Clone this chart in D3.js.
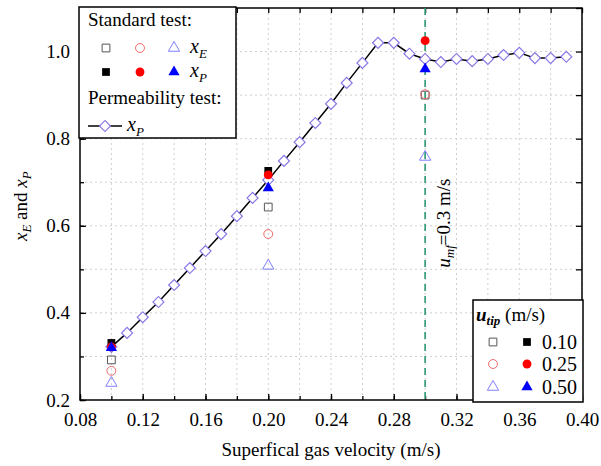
<!DOCTYPE html>
<html>
<head>
<meta charset="utf-8">
<script src="https://cdn.jsdelivr.net/npm/d3@7"></script>
<style>
  body { margin: 0; background: #fff; }
</style>
</head>
<body>
<div id="chart"></div>
<script>
const WIDTH = 601;
const HEIGHT = 466;

// permeability test (x_P)
const permX = [0.10, 0.11, 0.12, 0.13, 0.14, 0.15, 0.16, 0.17, 0.18, 0.19,
               0.20, 0.21, 0.22, 0.23, 0.24, 0.25, 0.26, 0.27, 0.28, 0.29,
               0.30, 0.31, 0.32, 0.33, 0.34, 0.35, 0.36, 0.37, 0.38, 0.39];
const permY = [0.322, 0.354, 0.390, 0.425, 0.464, 0.503, 0.542, 0.581, 0.622, 0.664,
               0.705, 0.749, 0.792, 0.836, 0.880, 0.928, 0.974, 1.020, 1.020, 0.995,
               0.983, 0.976, 0.983, 0.978, 0.983, 0.992, 0.997, 0.985, 0.985, 0.988];

// standard test, one entry per u_tip
const standardX = [0.10, 0.20, 0.30];
const utipLabels = ["0.10", "0.25", "0.50"];
const xE = [
  [0.292, 0.643, 0.900],
  [0.267, 0.581, 0.902],
  [0.239, 0.508, 0.758]
];
const xP = [
  [0.331, 0.726, null],
  [0.322, 0.717, 1.025],
  [0.320, 0.687, 0.960]
];

const xTicks = [0.08, 0.12, 0.16, 0.20, 0.24, 0.28, 0.32, 0.36, 0.40];
const yTicks = [0.2, 0.4, 0.6, 0.8, 1.0];
const umf = 0.30;

const FONT = "Liberation Serif";
const shapes = [d3.symbolSquare, d3.symbolCircle, d3.symbolTriangle];
const openColors = ["#555555", "#ef6a6a", "#7f7fff"];
const fillColors = ["#000000", "#ff0000", "#0000ff"];
const sizes = [60, 62, 55];

const margin = {left: 80, right: 19, top: 8, bottom: 66};
const x = d3.scaleLinear().domain([0.08, 0.40]).range([margin.left, WIDTH - margin.right]);
const y = d3.scaleLinear().domain([0.2, 1.1]).range([HEIGHT - margin.bottom, margin.top]);

const svg = d3.select("#chart").append("svg")
  .attr("width", WIDTH)
  .attr("height", HEIGHT);

// dotted grid
const xMinor = d3.range(0.10, 0.40, 0.02);
const yMinor = d3.range(0.3, 1.1, 0.1);
svg.append("g").selectAll("line").data(xMinor).enter().append("line")
  .attr("x1", d => x(d)).attr("x2", d => x(d))
  .attr("y1", y.range()[0]).attr("y2", y.range()[1])
  .attr("stroke", "#cfcfcf").attr("stroke-dasharray", "2,3");
svg.append("g").selectAll("line").data(yMinor).enter().append("line")
  .attr("y1", d => y(d)).attr("y2", d => y(d))
  .attr("x1", x.range()[0]).attr("x2", x.range()[1])
  .attr("stroke", "#cfcfcf").attr("stroke-dasharray", "2,3");

// axes with inward ticks on all four sides
const bottom = HEIGHT - margin.bottom, right = WIDTH - margin.right;
function axisGroup(axis, tx, ty) {
  const g = svg.append("g").attr("transform", `translate(${tx},${ty})`).call(axis);
  g.select(".domain").remove();
  g.selectAll("line").attr("stroke", "#000").attr("stroke-width", 1.3);
  g.selectAll("text").attr("font-size", 19).attr("fill", "#000");
  return g;
}
const xAllTicks = d3.range(0.08, 0.401, 0.02);
const yAllTicks = d3.range(0.2, 1.101, 0.1);
axisGroup(d3.axisBottom(x).tickValues(xAllTicks).tickSize(-4).tickFormat(""), 0, bottom);
axisGroup(d3.axisBottom(x).tickValues(xTicks).tickSize(-6).tickPadding(13).tickFormat(d3.format(".2f")), 0, bottom);
axisGroup(d3.axisTop(x).tickValues(xAllTicks).tickSize(-5).tickFormat(""), 0, margin.top);
axisGroup(d3.axisLeft(y).tickValues(yAllTicks).tickSize(-4).tickFormat(""), margin.left, 0);
axisGroup(d3.axisLeft(y).tickValues(yTicks).tickSize(-6).tickPadding(10).tickFormat(d3.format(".1f")), margin.left, 0);
axisGroup(d3.axisRight(y).tickValues(yAllTicks).tickSize(-6).tickFormat(""), right, 0);

svg.append("rect")
  .attr("x", margin.left).attr("y", margin.top)
  .attr("width", right - margin.left).attr("height", bottom - margin.top)
  .attr("fill", "none").attr("stroke", "#000").attr("stroke-width", 1.5);

// u_mf line
svg.append("line")
  .attr("x1", x(umf)).attr("x2", x(umf))
  .attr("y1", y.range()[1]).attr("y2", y.range()[0])
  .attr("stroke", "#2a9a72").attr("stroke-width", 1.6).attr("stroke-dasharray", "7,5");
const umfText = svg.append("text")
  .attr("transform", `translate(${x(umf) + 25},${y(0.606)}) rotate(-90)`)
  .attr("text-anchor", "middle").attr("font-size", 19);
umfText.append("tspan").attr("font-style", "italic").text("u");
umfText.append("tspan").attr("font-style", "italic").attr("font-size", 13).attr("dy", 4).text("mf");
umfText.append("tspan").attr("dy", -4).text("=0.3 m/s");

// permeability test line + diamonds
const permData = permX.map((d, i) => [d, permY[i]]);
svg.append("path").datum(permData)
  .attr("fill", "none").attr("stroke", "#000").attr("stroke-width", 1.5)
  .attr("d", d3.line().x(d => x(d[0])).y(d => y(d[1])));
const diamond = d3.symbol().type(d3.symbolSquare).size(60);
svg.append("g").selectAll("path").data(permData).enter().append("path")
  .attr("d", diamond)
  .attr("transform", d => `translate(${x(d[0])},${y(d[1])}) rotate(45)`)
  .attr("fill", "#fff").attr("stroke", "#8a78e6").attr("stroke-width", 1.2);

// standard test markers
function marker(g, k, filled, px, py) {
  g.append("path")
    .attr("d", d3.symbol().type(shapes[k]).size(sizes[k]))
    .attr("transform", `translate(${px},${py})`)
    .attr("fill", filled ? fillColors[k] : "none")
    .attr("stroke", filled ? "none" : openColors[k])
    .attr("stroke-width", 1);
}
const stdG = svg.append("g");
xE.forEach((row, k) => row.forEach((v, i) => {
  if (v != null) marker(stdG, k, false, x(standardX[i]), y(v));
}));
xP.forEach((row, k) => row.forEach((v, i) => {
  if (v != null) marker(stdG, k, true, x(standardX[i]), y(v));
}));

// axis titles
svg.append("text")
  .attr("x", (margin.left + right) / 2).attr("y", 456)
  .attr("text-anchor", "middle").attr("font-size", 19)
  .text("Superfical gas velocity (m/s)");
const yTitle = svg.append("text")
  .attr("transform", `translate(27,${y(0.645)}) rotate(-90)`)
  .attr("text-anchor", "middle").attr("font-size", 19);
yTitle.append("tspan").attr("font-style", "italic").text("x");
yTitle.append("tspan").attr("font-style", "italic").attr("font-size", 13).attr("dy", 4).text("E");
yTitle.append("tspan").attr("dy", -4).text(" and ");
yTitle.append("tspan").attr("font-style", "italic").text("x");
yTitle.append("tspan").attr("font-style", "italic").attr("font-size", 13).attr("dy", 4).text("P");

// legend 1
const leg1 = svg.append("g");
leg1.append("rect").attr("x", 79).attr("y", 7).attr("width", 157).attr("height", 131)
  .attr("fill", "#fff").attr("stroke", "#000").attr("stroke-width", 1.5);
leg1.append("text").attr("x", 88).attr("y", 26).attr("font-size", 19).text("Standard test:");
const legCols = [106, 140, 174];
[0, 1, 2].forEach(k => {
  marker(leg1, k, false, legCols[k], 48);
  marker(leg1, k, true, legCols[k], 72);
});
function subLabel(g, tx, ty, sub) {
  const t = g.append("text").attr("x", tx).attr("y", ty).attr("font-size", 20).attr("font-style", "italic");
  t.append("tspan").text("x");
  t.append("tspan").attr("font-size", 13).attr("dy", 5).text(sub);
}
subLabel(leg1, 190, 53, "E");
subLabel(leg1, 190, 77, "P");
leg1.append("text").attr("x", 88).attr("y", 104).attr("font-size", 19).text("Permeability test:");
leg1.append("line").attr("x1", 88).attr("x2", 122).attr("y1", 126).attr("y2", 126)
  .attr("stroke", "#000").attr("stroke-width", 1.5);
leg1.append("path").attr("d", diamond)
  .attr("transform", "translate(105,126) rotate(45)")
  .attr("fill", "#fff").attr("stroke", "#8a78e6").attr("stroke-width", 1.2);
subLabel(leg1, 127, 131, "P");

// legend 2
const leg2 = svg.append("g");
leg2.append("rect").attr("x", 473).attr("y", 300).attr("width", 110).attr("height", 102)
  .attr("fill", "#fff").attr("stroke", "#000").attr("stroke-width", 1.5);
const t2 = leg2.append("text").attr("x", 476).attr("y", 321).attr("font-size", 19);
t2.append("tspan").attr("font-style", "italic").attr("font-weight", "bold").text("u");
t2.append("tspan").attr("font-style", "italic").attr("font-weight", "bold").attr("font-size", 13).attr("dy", 4).text("tip");
t2.append("tspan").attr("dy", -4).text(" (m/s)");
const rowY = [342, 364, 387];
utipLabels.forEach((lab, k) => {
  marker(leg2, k, false, 493, rowY[k]);
  marker(leg2, k, true, 527, rowY[k]);
  leg2.append("text").attr("x", 542).attr("y", rowY[k] + 7).attr("font-size", 20).text(lab);
});

// serif everywhere (axis groups default to sans-serif)
svg.selectAll("g").attr("font-family", FONT);
svg.selectAll("text").attr("font-family", FONT);
</script>
</body>
</html>
